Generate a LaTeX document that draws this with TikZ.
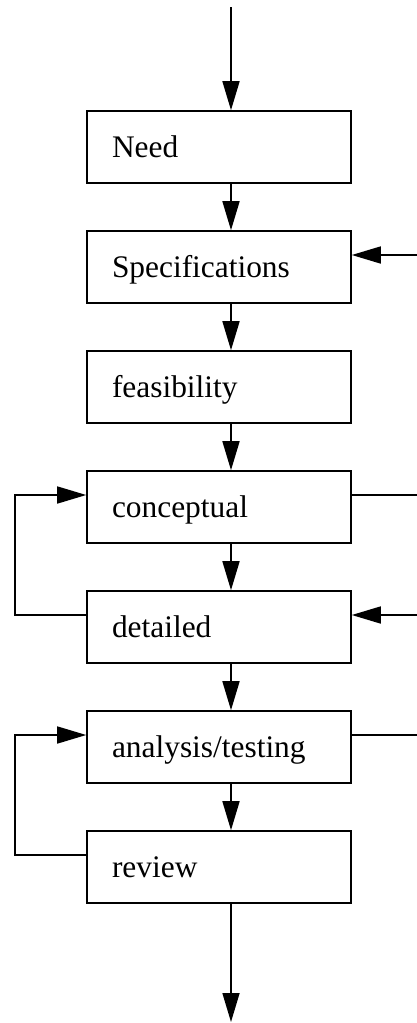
\documentclass[tikz,border=0pt]{standalone}
\usepackage{fontspec}
\setmainfont{Liberation Serif}
\usetikzlibrary{arrows.meta,calc}
\begin{document}
\begin{tikzpicture}[x=1pt,y=1pt,
  stage/.style={draw, line width=1.6pt, minimum width=264pt, minimum height=72pt,
    text width=214pt, inner xsep=25pt, inner ysep=0pt, align=left,
    text height=20.8pt, text depth=0pt, font=\fontsize{31.4}{36}\selectfont},
  flow/.style={line width=1.6pt, -{Triangle[length=29pt,width=17pt]}},
  link/.style={line width=1.6pt}]
\useasboundingbox (0,0) rectangle (417,-1023);

% design stages
\node[stage] (need) at (219,-147) {Need};
\node[stage] (spec) at (219,-267) {Specifications};
\node[stage] (feas) at (219,-387) {feasibility};
\node[stage] (conc) at (219,-507) {conceptual};
\node[stage] (det)  at (219,-627) {detailed};
\node[stage] (ana)  at (219,-747) {analysis/testing};
\node[stage] (rev)  at (219,-867) {review};

% main flow axis
\coordinate (src)  at (231,-7);
\coordinate (sink) at (231,-1022);
\draw[flow] (src) -- (need.north -| src);
\draw[flow] (need.south -| src) -- (spec.north -| src);
\draw[flow] (spec.south -| src) -- (feas.north -| src);
\draw[flow] (feas.south -| src) -- (conc.north -| src);
\draw[flow] (conc.south -| src) -- (det.north -| src);
\draw[flow] (det.south -| src) -- (ana.north -| src);
\draw[flow] (ana.south -| src) -- (rev.north -| src);
\draw[flow] (rev.south -| src) -- (sink);

% side connections on the right
\coordinate (specin)  at (417,-255);
\coordinate (concout) at (417,-495);
\coordinate (detin)   at (417,-615);
\coordinate (anaout)  at (417,-735);
\draw[flow] (specin) -- (specin -| spec.east);
\draw[link] (concout -| conc.east) -- (concout);
\draw[flow] (detin) -- (detin -| det.east);
\draw[link] (anaout -| ana.east) -- (anaout);

% feedback loops on the left
\coordinate (rail) at (15,0);
\coordinate (concL) at ([yshift=12pt]conc.west);
\coordinate (detL)  at ([yshift=12pt]det.west);
\coordinate (anaL)  at ([yshift=12pt]ana.west);
\coordinate (revL)  at ([yshift=12pt]rev.west);
\draw[flow] (detL) -- (detL -| rail) -- (concL -| rail) -- (concL);
\draw[flow] (revL) -- (revL -| rail) -- (anaL -| rail) -- (anaL);
\end{tikzpicture}
\end{document}
